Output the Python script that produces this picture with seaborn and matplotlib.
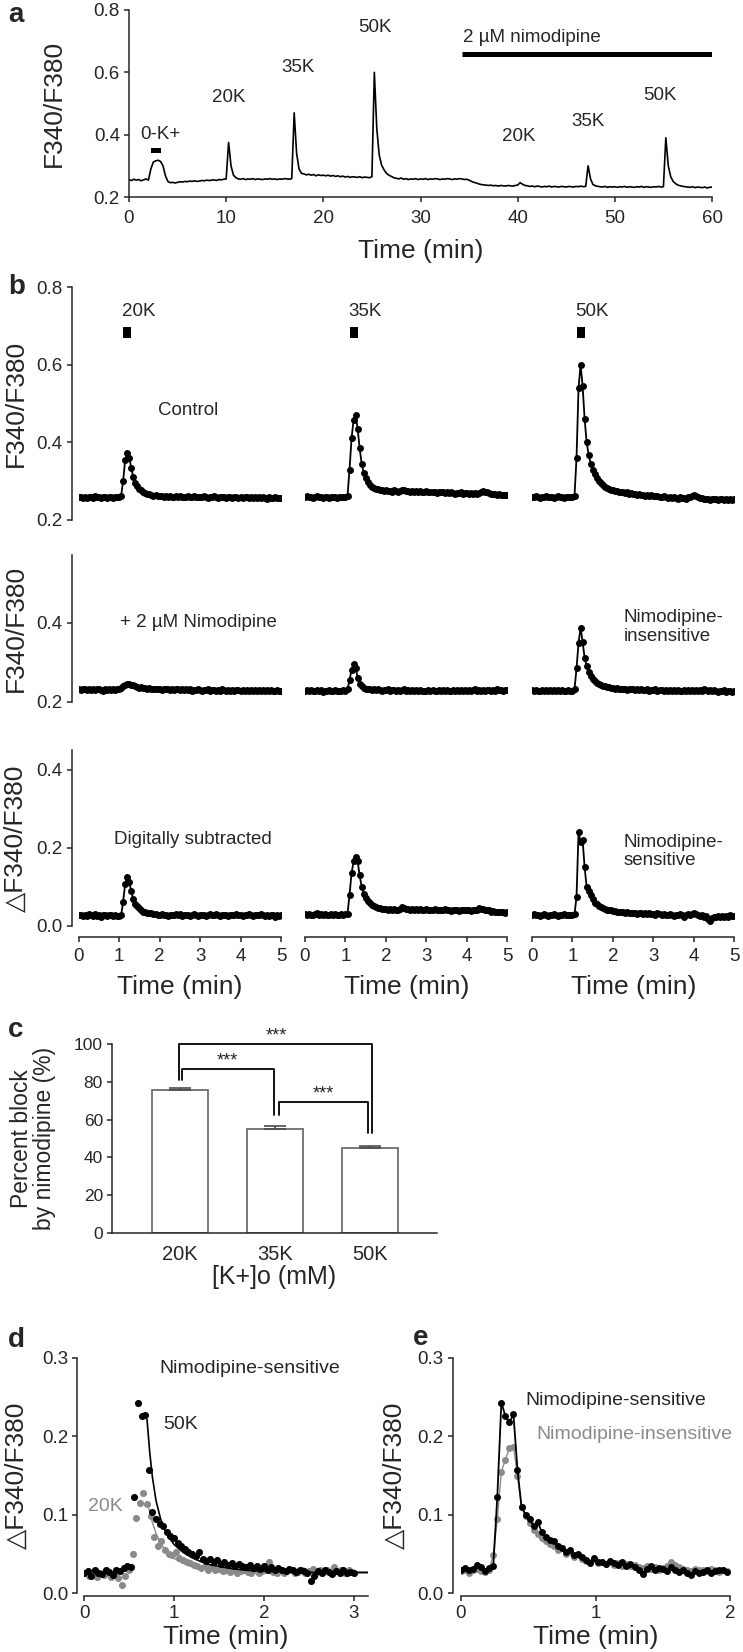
import numpy as np
import matplotlib
matplotlib.use('Agg')
import matplotlib.pyplot as plt
import seaborn as sns
from matplotlib.patches import Rectangle

sns.set_style('ticks')
plt.rcParams['font.family'] = ['Liberation Sans', 'DejaVu Sans']
plt.rcParams['axes.linewidth'] = 1.1
plt.rcParams['xtick.major.width'] = 1.1
plt.rcParams['ytick.major.width'] = 1.1
plt.rcParams['xtick.major.size'] = 3.5
plt.rcParams['ytick.major.size'] = 3.5

# ---------------- data ----------------
# panel a: whole-experiment trace, sampled every 0.25 min
a_dt = 0.25
a_ratio = [
    0.255,0.253,0.257,0.254,0.256,0.252,0.255,0.258,0.254,0.290,0.312,0.316,0.318,0.314,0.300,0.268,0.250,0.246,0.247,0.245,
    0.247,0.249,0.248,0.250,0.249,0.251,0.250,0.252,0.250,0.251,0.253,0.252,0.254,0.253,0.254,0.255,0.253,0.256,0.255,0.257,
    0.258,0.375,0.300,0.270,0.262,0.258,0.257,0.259,0.256,0.258,0.257,0.259,0.256,0.258,0.257,0.256,0.258,0.257,0.259,0.257,
    0.258,0.256,0.258,0.257,0.259,0.258,0.257,0.259,0.470,0.340,0.290,0.276,0.274,0.271,0.273,0.270,0.272,0.268,0.271,0.269,
    0.270,0.268,0.270,0.267,0.269,0.266,0.268,0.265,0.267,0.264,0.266,0.263,0.265,0.264,0.263,0.265,0.262,0.264,0.263,0.262,
    0.265,0.600,0.420,0.335,0.302,0.287,0.276,0.270,0.266,0.262,0.260,0.258,0.261,0.257,0.259,0.256,0.258,0.257,0.259,0.256,
    0.258,0.257,0.259,0.256,0.258,0.257,0.259,0.258,0.256,0.258,0.257,0.259,0.258,0.256,0.258,0.257,0.259,0.258,0.256,0.257,
    0.254,0.250,0.247,0.245,0.242,0.240,0.239,0.238,0.237,0.238,0.236,0.237,0.235,0.237,0.236,0.235,0.237,0.236,0.235,0.237,
    0.238,0.246,0.241,0.237,0.236,0.234,0.235,0.233,0.235,0.234,0.232,0.234,0.233,0.235,0.232,0.234,0.233,0.232,0.234,0.233,
    0.232,0.234,0.233,0.232,0.234,0.233,0.235,0.233,0.234,0.300,0.258,0.240,0.236,0.234,0.233,0.232,0.234,0.231,0.233,0.232,
    0.233,0.231,0.233,0.232,0.234,0.231,0.233,0.232,0.231,0.233,0.232,0.234,0.231,0.233,0.232,0.231,0.233,0.232,0.234,0.232,
    0.233,0.390,0.300,0.265,0.250,0.243,0.238,0.236,0.234,0.233,0.232,0.231,0.233,0.230,0.232,0.231,0.230,0.232,0.229,0.231,
    0.232]
a_labels = ["0-K+", "20K", "35K", "50K", "20K", "35K", "50K"]
a_label_x = [3.2, 10.3, 17.4, 25.3, 40.1, 47.2, 54.6]
a_label_y = [0.399, 0.518, 0.614, 0.745, 0.393, 0.441, 0.527]

# panel b: 5-min windows sampled every 0.05 min
b_dt = 0.05
ctrl_20 = [0.258,0.260,0.257,0.259,0.256,0.260,0.258,0.257,0.261,0.258,0.259,0.256,0.258,0.260,0.257,0.259,0.258,0.256,0.260,0.258,
           0.259,0.262,0.300,0.355,0.372,0.360,0.335,0.310,0.296,0.288,0.281,0.276,0.272,0.270,0.268,0.266,0.265,0.263,0.264,0.262,
           0.261,0.263,0.260,0.262,0.259,0.261,0.260,0.258,0.261,0.259,0.262,0.258,0.260,0.259,0.261,0.258,0.260,0.262,0.259,0.258,
           0.260,0.258,0.261,0.259,0.257,0.260,0.258,0.261,0.259,0.257,0.260,0.258,0.259,0.257,0.260,0.258,0.256,0.259,0.258,0.257,
           0.259,0.257,0.258,0.260,0.257,0.259,0.256,0.258,0.257,0.259,0.256,0.258,0.257,0.255,0.258,0.256,0.257,0.258,0.256,0.257,
           0.256]
ctrl_35 = [0.259,0.261,0.258,0.260,0.257,0.259,0.261,0.258,0.260,0.257,0.259,0.258,0.256,0.260,0.258,0.259,0.257,0.260,0.258,0.259,
           0.260,0.262,0.330,0.410,0.458,0.470,0.435,0.385,0.345,0.322,0.308,0.298,0.291,0.286,0.283,0.280,0.279,0.277,0.276,0.275,
           0.276,0.274,0.275,0.273,0.276,0.274,0.273,0.275,0.278,0.276,0.274,0.275,0.273,0.274,0.272,0.275,0.273,0.274,0.272,0.273,
           0.274,0.272,0.271,0.273,0.272,0.270,0.272,0.271,0.273,0.270,0.271,0.269,0.271,0.270,0.268,0.270,0.269,0.271,0.268,0.270,
           0.269,0.268,0.270,0.267,0.269,0.268,0.270,0.272,0.274,0.271,0.273,0.270,0.268,0.266,0.267,0.265,0.266,0.264,0.265,0.264,
           0.265]
ctrl_50 = [0.260,0.258,0.261,0.259,0.257,0.260,0.258,0.261,0.259,0.258,0.260,0.257,0.259,0.261,0.258,0.260,0.257,0.259,0.258,0.260,
           0.259,0.262,0.360,0.540,0.600,0.545,0.460,0.400,0.368,0.345,0.330,0.318,0.309,0.301,0.295,0.290,0.286,0.283,0.280,0.278,
           0.276,0.274,0.275,0.272,0.273,0.271,0.270,0.271,0.268,0.269,0.267,0.268,0.265,0.266,0.264,0.265,0.263,0.265,0.262,0.264,
           0.262,0.261,0.263,0.260,0.259,0.261,0.258,0.257,0.259,0.256,0.258,0.257,0.255,0.258,0.256,0.257,0.255,0.258,0.260,0.262,
           0.264,0.261,0.258,0.256,0.257,0.255,0.253,0.255,0.252,0.254,0.253,0.255,0.252,0.254,0.253,0.251,0.254,0.252,0.253,0.251,
           0.253]
nimo_20 = [0.232,0.231,0.233,0.232,0.230,0.233,0.231,0.232,0.230,0.233,0.232,0.231,0.229,0.232,0.231,0.233,0.230,0.232,0.231,0.233,
           0.234,0.236,0.240,0.244,0.246,0.245,0.244,0.243,0.240,0.238,0.236,0.237,0.235,0.236,0.234,0.235,0.233,0.234,0.232,0.234,
           0.233,0.231,0.234,0.232,0.233,0.230,0.232,0.231,0.233,0.232,0.230,0.233,0.231,0.232,0.230,0.232,0.228,0.231,0.230,0.232,
           0.231,0.229,0.231,0.230,0.232,0.229,0.231,0.230,0.228,0.231,0.229,0.232,0.230,0.229,0.231,0.228,0.230,0.229,0.231,0.230,
           0.229,0.231,0.228,0.230,0.229,0.231,0.228,0.230,0.229,0.231,0.229,0.230,0.228,0.231,0.229,0.230,0.228,0.229,0.230,0.228,
           0.229]
nimo_35 = [0.229,0.231,0.228,0.230,0.227,0.229,0.231,0.228,0.230,0.226,0.229,0.228,0.230,0.227,0.229,0.231,0.228,0.229,0.227,0.230,
           0.229,0.232,0.255,0.282,0.296,0.287,0.262,0.246,0.240,0.236,0.234,0.232,0.233,0.231,0.232,0.230,0.232,0.231,0.229,0.231,
           0.230,0.232,0.229,0.231,0.230,0.228,0.231,0.229,0.230,0.232,0.229,0.231,0.228,0.230,0.229,0.231,0.228,0.230,0.229,0.227,
           0.229,0.230,0.228,0.231,0.229,0.227,0.230,0.228,0.231,0.229,0.230,0.228,0.229,0.231,0.228,0.230,0.229,0.231,0.228,0.230,
           0.229,0.231,0.228,0.230,0.232,0.229,0.231,0.228,0.230,0.229,0.231,0.230,0.228,0.231,0.229,0.232,0.230,0.231,0.229,0.231,
           0.230]
nimo_50 = [0.230,0.228,0.231,0.229,0.227,0.230,0.228,0.231,0.229,0.230,0.228,0.230,0.229,0.231,0.228,0.230,0.229,0.227,0.230,0.229,
           0.228,0.232,0.285,0.350,0.388,0.352,0.312,0.290,0.276,0.266,0.259,0.253,0.249,0.246,0.243,0.241,0.240,0.238,0.237,0.236,
           0.236,0.234,0.235,0.233,0.234,0.232,0.233,0.231,0.233,0.232,0.234,0.231,0.233,0.230,0.232,0.231,0.230,0.232,0.229,0.231,
           0.230,0.232,0.229,0.231,0.230,0.228,0.231,0.229,0.230,0.228,0.231,0.229,0.230,0.228,0.229,0.231,0.228,0.230,0.229,0.231,
           0.229,0.230,0.228,0.231,0.229,0.232,0.230,0.228,0.231,0.229,0.230,0.228,0.226,0.229,0.227,0.230,0.225,0.228,0.227,0.226,
           0.228]
sub_20 = [0.027,0.029,0.025,0.028,0.026,0.030,0.027,0.025,0.031,0.026,0.028,0.024,0.029,0.027,0.026,0.028,0.027,0.025,0.029,0.026,
          0.025,0.027,0.062,0.108,0.125,0.112,0.090,0.068,0.056,0.050,0.045,0.040,0.037,0.035,0.034,0.032,0.032,0.030,0.031,0.029,
          0.028,0.030,0.027,0.029,0.026,0.028,0.029,0.027,0.030,0.027,0.031,0.026,0.028,0.027,0.029,0.026,0.028,0.030,0.027,0.026,
          0.028,0.027,0.029,0.026,0.028,0.030,0.027,0.029,0.031,0.028,0.026,0.029,0.027,0.028,0.026,0.029,0.027,0.028,0.030,0.027,
          0.029,0.026,0.028,0.027,0.030,0.028,0.026,0.029,0.027,0.028,0.031,0.027,0.025,0.028,0.026,0.029,0.027,0.022,0.028,0.026,
          0.027]
sub_35 = [0.030,0.028,0.031,0.029,0.027,0.030,0.032,0.028,0.030,0.029,0.031,0.027,0.029,0.030,0.028,0.031,0.029,0.027,0.030,0.028,
          0.030,0.031,0.080,0.135,0.165,0.176,0.165,0.130,0.100,0.083,0.072,0.065,0.058,0.054,0.050,0.048,0.046,0.045,0.044,0.043,
          0.044,0.042,0.043,0.041,0.044,0.042,0.041,0.043,0.049,0.045,0.043,0.044,0.042,0.043,0.041,0.044,0.042,0.043,0.041,0.042,
          0.043,0.041,0.042,0.040,0.043,0.041,0.042,0.040,0.041,0.043,0.040,0.042,0.039,0.041,0.040,0.042,0.039,0.041,0.040,0.042,
          0.040,0.042,0.039,0.041,0.040,0.042,0.045,0.043,0.044,0.041,0.042,0.040,0.037,0.038,0.036,0.037,0.035,0.036,0.035,0.034,
          0.035]
sub_50 = [0.028,0.030,0.027,0.029,0.026,0.029,0.031,0.028,0.026,0.029,0.027,0.030,0.028,0.026,0.029,0.027,0.030,0.028,0.029,0.027,
          0.028,0.030,0.075,0.240,0.215,0.220,0.150,0.100,0.090,0.078,0.068,0.060,0.055,0.052,0.048,0.046,0.044,0.042,0.041,0.040,
          0.039,0.038,0.037,0.036,0.035,0.036,0.034,0.035,0.033,0.034,0.032,0.034,0.031,0.033,0.032,0.030,0.032,0.031,0.033,0.030,
          0.031,0.029,0.032,0.030,0.028,0.031,0.029,0.027,0.030,0.028,0.026,0.029,0.027,0.030,0.028,0.024,0.027,0.030,0.028,0.031,
          0.033,0.030,0.027,0.025,0.028,0.022,0.026,0.018,0.014,0.020,0.024,0.022,0.026,0.023,0.025,0.022,0.026,0.024,0.027,0.025,
          0.026]
b_stim = ["20K", "35K", "50K"]

# panel c
c_cats = ["20K", "35K", "50K"]
c_block = [75.5, 55.0, 45.0]
c_sem = [1.0, 1.8, 1.0]

# panel d (nimodipine-sensitive, 50K black / 20K gray)
d_dt = 0.04
d_50k = [0.025,0.028,0.022,0.030,0.026,0.024,0.029,0.027,0.023,0.030,
         0.028,0.032,0.035,0.033,0.123,0.243,0.226,0.227,0.157,0.103,
         0.095,0.088,0.086,0.078,0.073,0.070,0.064,0.060,0.056,0.052,
         0.050,0.047,0.052,0.044,0.041,0.043,0.039,0.042,0.037,0.040,
         0.036,0.038,0.034,0.037,0.035,0.033,0.036,0.032,0.035,0.031,
         0.034,0.030,0.033,0.029,0.032,0.030,0.028,0.031,0.029,0.027,
         0.030,0.028,0.026,0.015,0.022,0.028,0.025,0.030,0.027,0.024,
         0.028,0.026,0.029,0.025,0.027,0.026]
d_20k = [0.025,0.022,0.027,0.020,0.026,0.023,0.028,0.021,0.025,0.019,
         0.010,0.022,0.030,0.050,0.096,0.115,0.128,0.114,0.098,0.072,
         0.060,0.066,0.055,0.050,0.048,0.052,0.045,0.042,0.040,0.038,
         0.036,0.034,0.032,0.035,0.030,0.033,0.029,0.031,0.028,0.030,
         0.027,0.029,0.026,0.028,0.030,0.027,0.025,0.029,0.026,0.028,
         0.030,0.040,0.027,0.025,0.029,0.026,0.028,0.030,0.025,0.027,
         0.029,0.026,0.028,0.031,0.025,0.029,0.027,0.030,0.026,0.033,
         0.028,0.030,0.026,0.029,0.027]
d_fit50_t = [0.70,0.73,0.76,0.80,0.85,0.90,0.95,1.00,1.10,1.20,1.30,1.40,1.50,1.65,1.80,2.00,2.30,2.60,3.00,3.15]
d_fit50_y = [0.222,0.180,0.148,0.118,0.095,0.080,0.070,0.062,0.052,0.045,0.040,0.036,0.034,0.031,0.029,0.028,0.027,0.026,0.026,0.026]
d_fit20_t = [0.72,0.76,0.80,0.85,0.90,0.95,1.00,1.10,1.20,1.30,1.45,1.60,1.80,2.00,2.40,2.80,3.15]
d_fit20_y = [0.108,0.090,0.076,0.064,0.055,0.049,0.044,0.038,0.034,0.032,0.030,0.029,0.028,0.028,0.027,0.027,0.027]

# panel e (50K: sensitive black / insensitive gray)
e_dt = 0.03
e_sens = [0.030,0.032,0.029,0.031,0.036,0.033,0.028,0.032,0.035,0.123,
          0.243,0.226,0.218,0.228,0.157,0.110,0.100,0.095,0.085,0.091,
          0.078,0.072,0.068,0.066,0.060,0.058,0.052,0.055,0.048,0.050,
          0.046,0.042,0.038,0.045,0.040,0.039,0.037,0.041,0.038,0.036,
          0.040,0.034,0.037,0.033,0.030,0.024,0.031,0.034,0.030,0.032,
          0.031,0.028,0.033,0.030,0.027,0.029,0.026,0.023,0.028,0.025,
          0.027,0.029,0.026,0.028,0.030,0.029,0.027]
e_insens = [0.028,0.030,0.026,0.029,0.031,0.028,0.027,0.030,0.048,0.095,
            0.155,0.170,0.185,0.187,0.150,0.110,0.098,0.090,0.080,0.075,
            0.070,0.066,0.062,0.060,0.055,0.058,0.050,0.052,0.046,0.048,
            0.044,0.041,0.040,0.043,0.038,0.040,0.037,0.039,0.036,0.038,
            0.035,0.037,0.034,0.036,0.033,0.032,0.034,0.031,0.033,0.030,
            0.032,0.035,0.040,0.036,0.033,0.031,0.030,0.028,0.031,0.029,
            0.030,0.028,0.031,0.029,0.027,0.030,0.028]

GRAY = '#8a8a8a'
TICK = 13.5
LAB = 19
ANN = 13.5

# ---------------- figure ----------------
W, H = 743, 1652
fig = plt.figure(figsize=(W / 100, H / 100), dpi=100)


def add_axes_px(x0, x1, ytop, ybot):
    return fig.add_axes([x0 / W, 1 - ybot / H, (x1 - x0) / W, (ybot - ytop) / H])


def ylab(ax, text, xc_px, x0, x1, size=LAB, **kw):
    ax.set_ylabel(text, fontsize=size, va='center', **kw)
    ax.yaxis.set_label_coords((xc_px - x0) / (x1 - x0), 0.5)


def xlab(ax, text, yc_px, ytop, ybot, size=LAB):
    ax.set_xlabel(text, fontsize=size, va='center')
    ax.xaxis.set_label_coords(0.5, (ybot - yc_px) / (ybot - ytop))


# ---- panel a ----
ax = add_axes_px(129, 712, 10, 197)
t_a = np.arange(len(a_ratio)) * a_dt
sns.lineplot(x=t_a, y=a_ratio, ax=ax, color='black', linewidth=1.2, estimator=None)
ax.set_xlim(0, 60)
ax.set_ylim(0.2, 0.8)
ax.set_xticks([0, 10, 20, 30, 40, 50, 60])
ax.set_yticks([0.2, 0.4, 0.6, 0.8])
ax.set_yticklabels(['0.2', '0.4', '0.6', '0.8'])
ax.tick_params(labelsize=TICK, pad=3)
ax.tick_params(axis='x', pad=6)
sns.despine(ax=ax)
for lbl, x, y in zip(a_labels, a_label_x, a_label_y):
    ax.text(x, y, lbl, ha='center', va='center', fontsize=ANN)
ax.add_patch(Rectangle((2.3, 0.341), 1.0, 0.016, color='black', lw=0))
ax.plot([34.3, 60.0], [0.659, 0.659], color='black', lw=3.6, solid_capstyle='butt')
ax.text(34.4, 0.713, '2 µM nimodipine', ha='left', va='center', fontsize=ANN)
ylab(ax, 'F340/F380', 54, 129, 712)
xlab(ax, 'Time (min)', 251, 10, 197)
fig.text(8 / W, 1 - 15 / H, 'a', fontsize=20, fontweight='bold', va='center', ha='left')

# ---- panel b ----
cols_x = [(78.6, 281.0), (305.0, 507.4), (532.0, 734.4)]
rows_y = [(287, 520, 0.2, 0.8), (555, 702, 0.2, 0.572), (750, 926, 0.0, 0.45)]
b_data = [[ctrl_20, ctrl_35, ctrl_50], [nimo_20, nimo_35, nimo_50], [sub_20, sub_35, sub_50]]
b_yticks = [[0.2, 0.4, 0.6, 0.8], [0.2, 0.4], [0.0, 0.2, 0.4]]
b_ylabels = ['F340/F380', 'F340/F380', '△F340/F380']
for r, (ytop, ybot, ylo, yhi) in enumerate(rows_y):
    for c, (x0, x1) in enumerate(cols_x):
        ax = add_axes_px(x0, x1, ytop, ybot)
        y = b_data[r][c]
        t = np.arange(len(y)) * b_dt
        sns.lineplot(x=t, y=y, ax=ax, color='black', linewidth=1.3, marker='o',
                     markersize=5.0, markeredgewidth=0, estimator=None)
        ax.set_xlim(0, 5)
        ax.set_ylim(ylo, yhi)
        ax.tick_params(labelsize=TICK, pad=3)
        sns.despine(ax=ax)
        if c == 0:
            ax.spines['left'].set_position(('outward', 5))
            ax.set_yticks(b_yticks[r])
            ax.set_yticklabels(['%.1f' % v for v in b_yticks[r]])
            ylab(ax, b_ylabels[r], 16, x0, x1)
        else:
            ax.spines['left'].set_visible(False)
            ax.set_yticks([])
            ax.set_ylabel('')
        if r == 2:
            ax.spines['bottom'].set_position(('outward', 8))
            ax.set_xticks([0, 1, 2, 3, 4, 5])
            ax.tick_params(axis='x', pad=4)
            xlab(ax, 'Time (min)', 987, ytop, ybot)
        else:
            ax.spines['bottom'].set_visible(False)
            ax.set_xticks([])
            ax.set_xlabel('')
        if r == 0:
            ax.text(1.48, 0.736, b_stim[c], ha='center', va='center', fontsize=ANN)
            ax.add_patch(Rectangle((1.1, 0.668), 0.2, 0.029, color='black', lw=0))
            if c == 0:
                ax.text(2.7, 0.483, 'Control', ha='center', va='center', fontsize=ANN)
        if r == 1 and c == 0:
            ax.text(2.97, 0.402, '+ 2 µM Nimodipine', ha='center', va='center', fontsize=ANN)
        if r == 1 and c == 2:
            ax.text(2.27, 0.39, 'Nimodipine-\ninsensitive', ha='left', va='center', fontsize=ANN,
                    linespacing=1.1)
        if r == 2 and c == 0:
            ax.text(2.83, 0.22, 'Digitally subtracted', ha='center', va='center', fontsize=ANN)
        if r == 2 and c == 2:
            ax.text(2.27, 0.19, 'Nimodipine-\nsensitive', ha='left', va='center', fontsize=ANN,
                    linespacing=1.1)
fig.text(8 / W, 1 - 287 / H, 'b', fontsize=20, fontweight='bold', va='center', ha='left')

# ---- panel c ----
cx0, cx1, cyt, cyb = 112, 437, 1044, 1233
ax = add_axes_px(cx0, cx1, cyt, cyb)
sns.barplot(x=c_cats, y=c_block, ax=ax, color='white', edgecolor='#6e6e6e', linewidth=1.3,
            width=0.58, errorbar=None)
ax.errorbar([0, 1, 2], c_block, yerr=[[0, 0, 0], c_sem], fmt='none', ecolor='#4d4d4d',
            elinewidth=1.2, capsize=8, capthick=1.2)
ax.set_xlim(-0.716, 2.705)
ax.set_ylim(0, 100)
ax.set_yticks([0, 20, 40, 60, 80, 100])
ax.tick_params(labelsize=TICK - 1, pad=3)
ax.tick_params(axis='x', length=0, labelsize=14.5, pad=9)
sns.despine(ax=ax)
br = dict(color='black', lw=1.3, clip_on=False)
ax.plot([-0.01, -0.01, 2.02, 2.02], [81, 100, 100, 53], **br)
ax.plot([0.02, 0.02, 0.99, 0.99], [81, 87, 87, 62.5], **br)
ax.plot([1.04, 1.04, 1.98, 1.98], [62.5, 69.5, 69.5, 53], **br)
for x, y in [(1.01, 104), (0.5, 91), (1.51, 73.5)]:
    ax.text(x, y, '***', ha='center', va='center', fontsize=13, clip_on=False)
ax.set_ylabel('Percent block\nby nimodipine (%)', fontsize=16.5, va='center', linespacing=1.0)
ax.yaxis.set_label_coords((33 - cx0) / (cx1 - cx0), 0.5)
xlab(ax, '[K+]o (mM)', 1277, cyt, cyb, size=18)
fig.text(8 / W, 1 - 1030 / H, 'c', fontsize=20, fontweight='bold', va='center', ha='left')

# ---- panel d ----
dx0, dx1, dyt, dyb = 84, 367.5, 1358, 1593
ax = add_axes_px(dx0, dx1, dyt, dyb)
t50 = np.arange(len(d_50k)) * d_dt
t20 = 0.02 + np.arange(len(d_20k)) * d_dt
sns.scatterplot(x=t20, y=d_20k, ax=ax, color=GRAY, s=26, linewidth=0, zorder=2)
sns.lineplot(x=d_fit20_t, y=d_fit20_y, ax=ax, color=GRAY, linewidth=1.0, estimator=None, zorder=3)
sns.scatterplot(x=t50, y=d_50k, ax=ax, color='black', s=26, linewidth=0, zorder=4)
sns.lineplot(x=d_fit50_t, y=d_fit50_y, ax=ax, color='black', linewidth=1.2, estimator=None, zorder=5)
ax.set_xlim(0, 3.15)
ax.set_ylim(0, 0.3)
ax.set_xticks([0, 1, 2, 3])
ax.set_yticks([0.0, 0.1, 0.2, 0.3])
ax.set_yticklabels(['0.0', '0.1', '0.2', '0.3'])
ax.tick_params(labelsize=TICK, pad=3)
sns.despine(ax=ax)
ax.spines['left'].set_position(('outward', 5))
ax.spines['bottom'].set_position(('outward', 2))
ax.text(0.84, 0.287, 'Nimodipine-sensitive', ha='left', va='center', fontsize=14)
ax.text(1.07, 0.215, '50K', ha='center', va='center', fontsize=14)
ax.text(0.24, 0.111, '20K', ha='center', va='center', fontsize=14, color=GRAY)
ylab(ax, '△F340/F380', 17, dx0, dx1)
xlab(ax, 'Time (min)', 1637, dyt, dyb)
fig.text(8 / W, 1 - 1340 / H, 'd', fontsize=20, fontweight='bold', va='center', ha='left')

# ---- panel e ----
ex0, ex1 = 461, 730
ax = add_axes_px(ex0, ex1, dyt, dyb)
te = np.arange(len(e_sens)) * e_dt
sns.lineplot(x=te, y=e_insens, ax=ax, color=GRAY, linewidth=1.0, marker='o', markersize=5,
             markeredgewidth=0, estimator=None)
sns.lineplot(x=te, y=e_sens, ax=ax, color='black', linewidth=1.3, marker='o', markersize=5,
             markeredgewidth=0, estimator=None)
ax.set_xlim(0, 2)
ax.set_ylim(0, 0.3)
ax.set_xticks([0, 1, 2])
ax.set_yticks([0.0, 0.1, 0.2, 0.3])
ax.set_yticklabels(['0.0', '0.1', '0.2', '0.3'])
ax.tick_params(labelsize=TICK, pad=3)
sns.despine(ax=ax)
ax.spines['left'].set_position(('outward', 6))
ax.spines['bottom'].set_position(('outward', 2))
ax.text(0.48, 0.246, 'Nimodipine-sensitive', ha='left', va='center', fontsize=14)
ax.text(0.56, 0.202, 'Nimodipine-insensitive', ha='left', va='center', fontsize=14, color=GRAY,
        clip_on=False)
ylab(ax, '△F340/F380', 395, ex0, ex1)
xlab(ax, 'Time (min)', 1637, dyt, dyb)
fig.text(413 / W, 1 - 1338 / H, 'e', fontsize=20, fontweight='bold', va='center', ha='left')

fig.savefig('out.png', dpi=100)
